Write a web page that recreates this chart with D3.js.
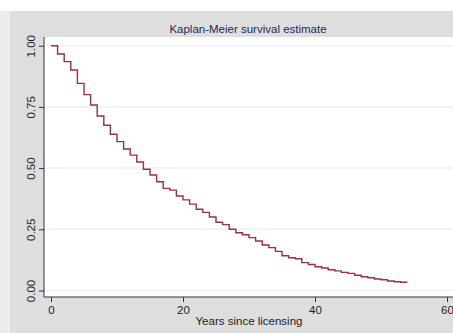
<!DOCTYPE html>
<html>
<head>
<meta charset="utf-8">
<script src="https://cdn.jsdelivr.net/npm/d3@7"></script>
<style>
  html, body { margin: 0; padding: 0; background: #ffffff; }
  svg { display: block; font-family: "Liberation Sans", Arial, Helvetica, sans-serif; }
</style>
</head>
<body>
<svg id="chart" width="453" height="333"></svg>
<script>
// Kaplan-Meier survival estimate: survivor function at the start of each year
const years = [0,1,2,3,4,5,6,7,8,9,10,11,12,13,14,15,16,17,18,19,20,21,22,23,24,25,26,27,28,29,30,31,32,33,34,35,36,37,38,39,40,41,42,43,44,45,46,47,48,49,50,51,52,53];
const survival = [1.000,0.966,0.935,0.901,0.846,0.800,0.758,0.713,0.675,0.638,0.608,0.578,0.553,0.525,0.495,0.472,0.444,0.417,0.410,0.386,0.370,0.353,0.332,0.319,0.300,0.279,0.269,0.250,0.236,0.228,0.216,0.202,0.186,0.175,0.160,0.142,0.134,0.130,0.114,0.106,0.097,0.092,0.085,0.080,0.074,0.070,0.062,0.056,0.052,0.047,0.044,0.039,0.036,0.034];
const lastTime = 54;

const xTicks = [0, 20, 40, 60];
const yTicks = [0, 0.25, 0.5, 0.75, 1];
const yTickLabels = ["0.00", "0.25", "0.50", "0.75", "1.00"];

const titleText = "Kaplan-Meier survival estimate";
const xTitle = "Years since licensing";

const svg = d3.select("#chart");
const W = 453, H = 333;
const fontSize = 11.5;

// graph region background
svg.append("rect").attr("x", 0).attr("y", 11).attr("width", 10).attr("height", H - 11).attr("fill", "#e9eded");
svg.append("rect").attr("x", 10).attr("y", 11).attr("width", W - 10).attr("height", H - 11).attr("fill", "#dedede");

const plot = { left: 44, top: 37, right: 460, bottom: 297 };

const x = d3.scaleLinear().domain([0, 60]).range([51, 447]);
const y = d3.scaleLinear().domain([0, 1]).range([290.5, 45.7]);

// plot region
svg.append("rect")
  .attr("x", plot.left).attr("y", plot.top)
  .attr("width", plot.right - plot.left).attr("height", plot.bottom - plot.top)
  .attr("fill", "#ffffff");

// horizontal gridlines
svg.append("g").selectAll("line").data(yTicks).join("line")
  .attr("x1", plot.left).attr("x2", plot.right)
  .attr("y1", d => y(d)).attr("y2", d => y(d))
  .attr("stroke", "#eaf2f3").attr("stroke-width", 1.5);

// survival step curve
const pts = years.map((t, i) => [t, survival[i]]);
pts.push([lastTime, survival[survival.length - 1]]);
const line = d3.line().x(d => x(d[0])).y(d => y(d[1])).curve(d3.curveStepAfter);
svg.append("path")
  .attr("d", line(pts))
  .attr("fill", "none")
  .attr("stroke", "#8c2232")
  .attr("stroke-width", 1.4)
  .attr("opacity", 0.92);

// y axis with rotated labels
const yAxis = d3.axisLeft(y).tickValues(yTicks).tickSize(5).tickFormat((d, i) => yTickLabels[i]);
const gy = svg.append("g").attr("transform", `translate(${plot.left},0)`).call(yAxis);
gy.select(".domain").remove();
gy.append("line").attr("x1", 0).attr("x2", 0).attr("y1", plot.top).attr("y2", plot.bottom).attr("stroke", "#333333").attr("stroke-width", 1);
gy.selectAll(".tick line").attr("stroke", "#333333");
gy.selectAll(".tick text")
  .attr("font-size", fontSize).attr("fill", "#222222")
  .attr("transform", "rotate(-90)")
  .attr("x", 0).attr("y", -9.5).attr("dy", 0)
  .attr("text-anchor", "middle");

// x axis
const xAxis = d3.axisBottom(x).tickValues(xTicks).tickSize(5).tickFormat(d3.format("d"));
const gx = svg.append("g").attr("transform", `translate(0,${plot.bottom})`).call(xAxis);
gx.select(".domain").remove();
gx.append("line").attr("x1", plot.left).attr("x2", plot.right).attr("y1", 0).attr("y2", 0).attr("stroke", "#333333").attr("stroke-width", 1);
gx.selectAll(".tick line").attr("stroke", "#333333");
gx.selectAll(".tick text").attr("font-size", fontSize).attr("fill", "#222222").attr("y", 16.5).attr("dy", 0);

// titles
svg.append("text").attr("x", 248).attr("y", 33).attr("text-anchor", "middle")
  .attr("font-size", fontSize).attr("fill", "#1e2b50").text(titleText);
svg.append("text").attr("x", 249).attr("y", 324.5).attr("text-anchor", "middle")
  .attr("font-size", fontSize).attr("fill", "#222222").text(xTitle);
</script>
</body>
</html>
